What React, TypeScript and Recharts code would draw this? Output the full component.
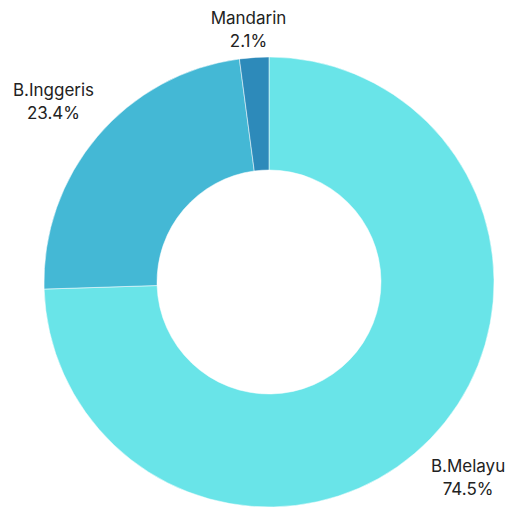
import React from "react";
import { PieChart, Pie, Cell } from "recharts";

const categories = ["B.Melayu", "B.Inggeris", "Mandarin"];
const values = [74.5, 23.4, 2.1];
const colors = ["#69E4E8", "#44B8D5", "#2D8ABA"];

const data = categories.map((name, i) => ({ name, value: values[i] }));

const RAD = Math.PI / 180;

const renderLabel = (props: any) => {
  const { cx, cy, midAngle, index } = props;
  const R = 280;
  const x = cx + R * Math.cos(-midAngle * RAD) - 2;
  let y = cy + R * Math.sin(-midAngle * RAD);
  if (y < 29) y = 29;
  return (
    <text
      x={x}
      y={y}
      textAnchor="middle"
      fill="#222"
      style={{ fontFamily: "Inter, sans-serif", fontSize: 17 }}
    >
      <tspan x={x} y={y - 11} dominantBaseline="central">
        {categories[index]}
      </tspan>
      <tspan x={x} y={y + 12} dominantBaseline="central">
        {values[index].toFixed(1)}%
      </tspan>
    </text>
  );
};

export default function App() {
  return (
    <div style={{ position: "absolute", left: 0, top: 0, width: 518, height: 507, background: "#fff" }}>
      <PieChart width={518} height={507}>
        <Pie
          data={data}
          dataKey="value"
          nameKey="name"
          cx={264}
          cy={277}
          innerRadius={112}
          outerRadius={225}
          startAngle={90}
          endAngle={-270}
          stroke="rgba(255,255,255,0.5)"
          strokeWidth={1}
          label={renderLabel}
          labelLine={false}
          isAnimationActive={false}
        >
          {data.map((d, i) => (
            <Cell key={d.name} fill={colors[i]} />
          ))}
        </Pie>
      </PieChart>
    </div>
  );
}
